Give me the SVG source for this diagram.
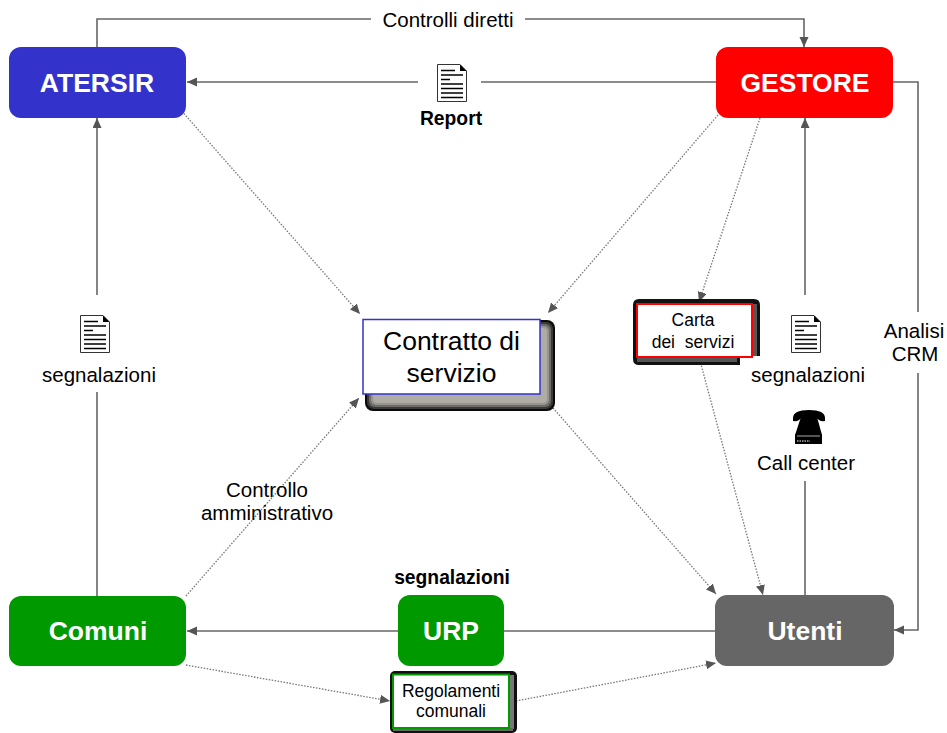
<svg xmlns="http://www.w3.org/2000/svg" width="947" height="733" viewBox="0 0 947 733">
<style>
text{font-family:"Liberation Sans",Arial,sans-serif;fill:#000;text-anchor:middle}
.t{font-size:20.500px}
.b{font-size:26.500px;font-weight:bold;fill:#fff}
.s{stroke:#666;stroke-width:1.6;fill:none}
.d{stroke:#777;stroke-width:1.3;stroke-dasharray:1.5 1.5;fill:none}
.doc{fill:#fff;stroke:#333;stroke-width:1}
.ln{stroke:#000;stroke-width:1.6}
.sm{font-size:17.500px}
</style>
<defs>
<marker id="a" markerUnits="userSpaceOnUse" markerWidth="11" markerHeight="10" refX="10" refY="4.500" orient="auto"><path d="M0 0L10 4.500L0 9Z" fill="#555"/></marker>
<g id="docicon"><path class="doc" d="M-14.500-18.500H8L14.500-12V18.500H-14.500Z"/><path d="M8-18.500L14.500-12H8Z" fill="#000"/><path class="ln" d="M-11-12.500H3M-11-8H11M-11-3.500H-2M-11 1H11M-11 5.500H11M-11 10H11M-11 14.500H11"/></g>
</defs>
<g id="connectors">
<path class="s" d="M97 47V19H371M525 19H804V47" marker-end="url(#a)"/>
<path class="s" d="M418 82H187" marker-end="url(#a)"/>
<path class="s" d="M716 82H481"/>
<path class="s" d="M893 82H918V312M918 373V630H894" marker-end="url(#a)"/>
<path class="s" d="M97 295V118" marker-end="url(#a)"/>
<path class="s" d="M97 392V596"/>
<path class="s" d="M805 295V118" marker-end="url(#a)"/>
<path class="s" d="M805 481V595"/>
<path class="s" d="M398 631H187" marker-end="url(#a)"/>
<path class="s" d="M716 631H504"/>
<path class="d" d="M172 100L360 314" marker-end="url(#a)"/>
<path class="d" d="M718 115L548 313" marker-end="url(#a)"/>
<path class="d" d="M760 118L699 302" marker-end="url(#a)"/>
<path class="d" d="M699 357L763 595" marker-end="url(#a)"/>
<path class="d" d="M553 408L716 594" marker-end="url(#a)"/>
<path class="d" d="M186 596L359 398" marker-end="url(#a)"/>
<path class="d" d="M186 665L390 701" marker-end="url(#a)"/>
<path class="d" d="M516 701L716 663" marker-end="url(#a)"/>
</g>
<g id="atersir"><rect x="9" y="47" width="177" height="71" rx="12" fill="#3333cc"/><text class="b" x="97" y="92">ATERSIR</text></g>
<g id="gestore"><rect x="716" y="47" width="177" height="71" rx="12" fill="#ff0000"/><text class="b" x="805" y="92">GESTORE</text></g>
<g id="comuni"><rect x="9" y="596" width="177" height="70" rx="12" fill="#009900"/><text class="b" x="98" y="640">Comuni</text></g>
<g id="utenti"><rect x="715" y="595" width="179" height="71" rx="12" fill="#666"/><text class="b" x="805" y="640">Utenti</text></g>
<g id="urp"><rect x="398" y="595" width="106" height="71" rx="12" fill="#009900"/><text class="b" x="451" y="640">URP</text></g>
<g id="contratto">
<rect x="365" y="320" width="190" height="91" rx="8" fill="#0a0a0a"/>
<rect x="367" y="322" width="186" height="87" rx="7" fill="#3a3a38"/>
<rect x="369" y="324" width="182" height="83" rx="6" fill="#6e6c68"/>
<rect x="371" y="326" width="178" height="79" rx="5" fill="#96948e"/>
<rect x="373" y="328" width="174" height="75" rx="4" fill="#aeaca4"/>
<rect x="363" y="319.500" width="177" height="74.500" fill="#fff" stroke="#3333cc" stroke-width="1.500"/>
<text x="451.500" y="350" font-size="26.500">Contratto di</text><text x="451.500" y="382" font-size="26.500">servizio</text></g>
<g id="carta">
<path d="M639 299H754Q760 299 760 305V356H740V365H639Q633 365 633 359V305Q633 299 639 299Z" fill="#111"/>
<rect x="752" y="304" width="5" height="52" fill="#555"/>
<rect x="637" y="357" width="100" height="5" fill="#555"/>
<rect x="637" y="304" width="115" height="53" fill="#fff" stroke="#ff0000" stroke-width="2"/>
<text x="693" y="326" class="sm">Carta</text><text x="693" y="348" class="sm" xml:space="preserve">dei  servizi</text></g>
<g id="regolamenti">
<rect x="390" y="671" width="127" height="62" rx="5" fill="#111"/>
<rect x="509" y="675" width="5" height="54" fill="#777"/>
<rect x="393" y="728" width="120" height="3" fill="#666"/>
<rect x="393" y="674.500" width="116" height="53.500" fill="#fff" stroke="#009900" stroke-width="2"/>
<text x="451" y="697" class="sm">Regolamenti</text><text x="451" y="717" class="sm">comunali</text></g>
<g id="labels">
<text class="t" x="448" y="27">Controlli diretti</text>
<use href="#docicon" x="452" y="83"/>
<text x="451" y="125" font-size="19.300" font-weight="bold">Report</text>
<use href="#docicon" x="95" y="334"/>
<text class="t" x="99" y="382">segnalazioni</text>
<use href="#docicon" x="806" y="334"/>
<text class="t" x="808" y="382">segnalazioni</text>
<text class="t" x="806" y="470">Call center</text>
<text class="t"><tspan x="914" y="338">Analisi</tspan><tspan x="915" y="361">CRM</tspan></text>
<text class="t"><tspan x="267" y="497">Controllo</tspan><tspan x="267" y="520">amministrativo</tspan></text>
<text x="452" y="584" font-size="19.300" font-weight="bold">segnalazioni</text>
<g id="phone"><path d="M793 418Q793 410 809 410Q825 410 825 418L825 421Q819 422 816 417H802Q799 422 793 421Z" fill="#000"/><path d="M801 417H817L822 435V444H795V435Z" fill="#000"/><path d="M797 436H820" stroke="#aaa" stroke-width="1"/><path d="M797 441H810" stroke="#fff" stroke-width="1" stroke-dasharray="1.500 1"/></g>
</g>
</svg>
